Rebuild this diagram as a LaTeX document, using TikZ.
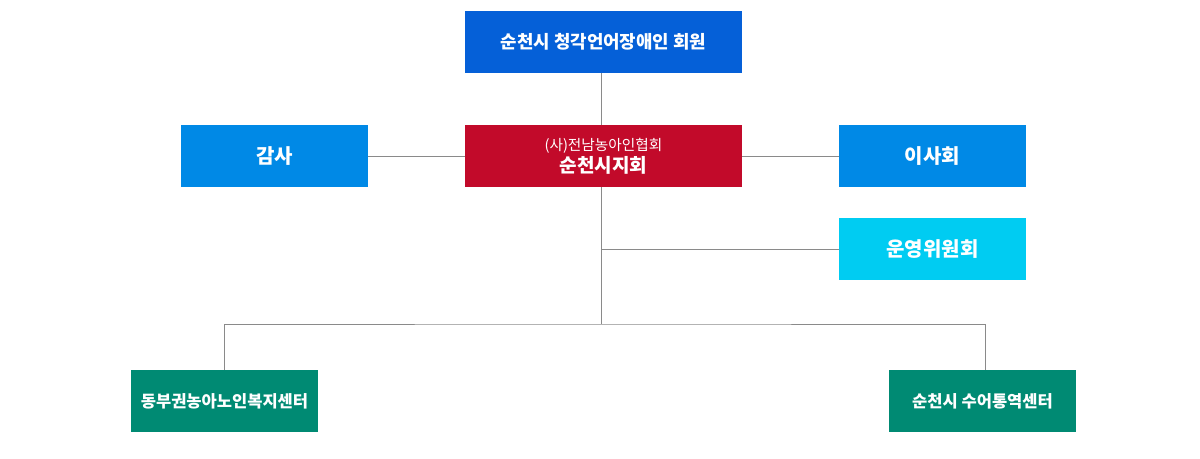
\documentclass[tikz,border=0pt]{standalone}
\usepackage{fontspec}
\setmainfont{Noto Sans CJK KR}
\definecolor{topblue}{HTML}{0560D8}
\definecolor{orgred}{HTML}{C20A2A}
\definecolor{sideblue}{HTML}{0089E6}
\definecolor{skyblue}{HTML}{00CCF2}
\definecolor{orggreen}{HTML}{008A73}
\definecolor{linegray}{HTML}{8A8A8A}
\begin{document}
\begin{tikzpicture}[x=0.75pt, y=-0.75pt,
    box/.style = {rectangle, inner sep=0pt, minimum width=140.25pt, minimum height=46.5pt, text=white, font=\bfseries, align=center},
    wide/.style = {box, minimum width=207.75pt},
    link/.style = {draw=linegray, line width=0.75pt}]
\useasboundingbox (0,0) rectangle (1200,458);

\node[wide, fill=topblue, font=\bfseries\fontsize{13.4}{15}\selectfont] (hoewon) at (603.5,42) {순천시 청각언어장애인 회원};
\node[wide, fill=orgred] (jihoe) at (603.5,156) {{\mdseries\fontsize{11}{12}\selectfont (사)전남농아인협회}\\[1pt]{\fontsize{14.3}{15}\selectfont 순천시지회}};
\node[box, fill=sideblue, font=\bfseries\fontsize{15}{17}\selectfont] (gamsa) at (274.5,156) {감사};
\node[box, fill=sideblue, font=\bfseries\fontsize{15}{17}\selectfont] (isahoe) at (932.5,156) {이사회};
\node[box, fill=skyblue, font=\bfseries\fontsize{15}{17}\selectfont] (unyeong) at (932.5,249) {운영위원회};
\node[box, fill=orggreen, font=\bfseries\fontsize{12.4}{14}\selectfont] (bokji) at (224.5,401) {동부권농아노인복지센터};
\node[box, fill=orggreen, font=\bfseries\fontsize{12.4}{14}\selectfont] (suhwa) at (982.5,401) {순천시 수어통역센터};
\coordinate (fork) at (601,324);
\coordinate (dropR) at (985.5,370);

\draw[link] (fork |- hoewon.south) -- (fork |- jihoe.north);
\draw[link] (gamsa) -- (jihoe);
\draw[link] (jihoe) -- (isahoe);
\draw[link] (fork |- jihoe.south) -- (fork);
\draw[link] (fork |- unyeong) -- (unyeong.west);
\draw[link] (bokji.north) |- (fork) -| (dropR);
\end{tikzpicture}
\end{document}
